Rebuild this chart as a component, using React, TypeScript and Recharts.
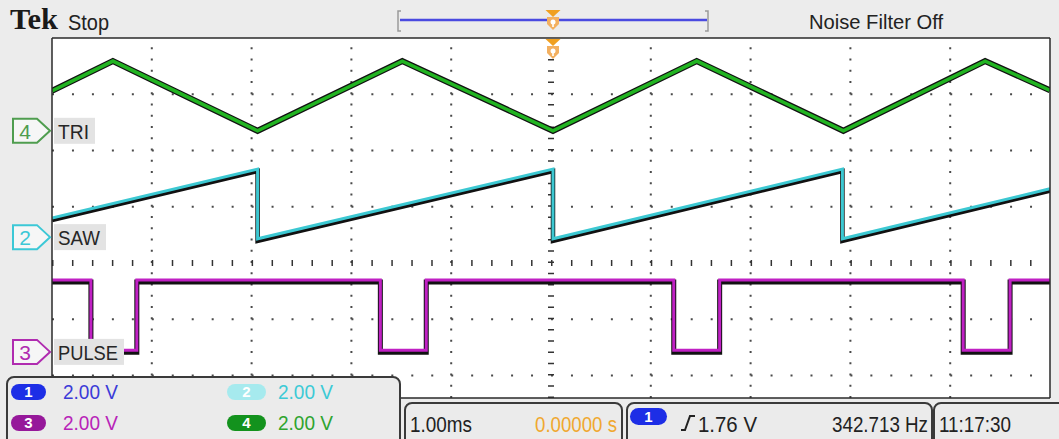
import React from 'react';
import { ComposedChart, Line, XAxis, YAxis, CartesianGrid, ReferenceLine, ReferenceDot } from 'recharts';

// time in ms (1.00 ms/div, trigger at 0), level in screen divisions from centre
const triTime = [-5, -4.39, -2.94, -1.49, 0.02, 1.46, 2.93, 4.35, 5];
const triLevel = [3.06, 3.59, 2.35, 3.59, 2.35, 3.59, 2.35, 3.59, 3.07];

const sawTime = [-5, -2.94, -2.94, 0.02, 0.02, 2.92, 2.92, 5];
const sawLevel = [0.8, 1.67, 0.43, 1.67, 0.43, 1.67, 0.43, 1.32];

const pulseTime = [-5, -4.61, -4.61, -4.15, -4.15, -1.71, -1.71, -1.25, -1.25, 1.23, 1.23, 1.69, 1.69, 4.13, 4.13, 4.6, 4.6, 5];
const pulseLevel = [-0.3, -0.3, -1.55, -1.55, -0.3, -0.3, -1.55, -1.55, -0.3, -0.3, -1.55, -1.55, -0.3, -0.3, -1.55, -1.55, -0.3, -0.3];

// channel markers on the left edge
const chanNums = ['4', '2', '3'];
const chanNames = ['TRI', 'SAW', 'PULSE'];
const chanOffsets = [2.35, 0.46, -1.58];
const chanColors = ['#4f9d4f', '#3cc8d6', '#b02cb0'];
const chanNameWidths = [31, 42, 60];

// graticule
const gridX = [-4, -3, -2, -1, 1, 2, 3, 4];
const gridY = [-2, -1, 1, 2, 3];
const minorX = Array.from({ length: 51 }, (_, i) => Math.round((-5 + i * 0.2) * 100) / 100);
const minorY = Array.from({ length: 33 }, (_, i) => Math.round((-2.4 + i * 0.2) * 100) / 100);

// readouts
const scaleNums = ['1', '2', '3', '4'];
const scaleTexts = ['2.00 V', '2.00 V', '2.00 V', '2.00 V'];
const pillColors = ['#1d2ee6', '#a6eaee', '#96189a', '#13921d'];
const scaleColors = ['#3b3bd8', '#3ccad6', '#b824b8', '#2ea42e'];

const W = 1059;
const H = 439;
const UI = '"Liberation Sans", Arial, sans-serif';
const frame = { stroke: '#2a2a2a', strokeWidth: 1.5 };

const Txt = ({ x, y, w, size, fill = '#222', children, weight, family }: any) => (
  <text x={x} y={y} fontSize={size} fill={fill} fontFamily={family || UI} fontWeight={weight}
    textLength={w} lengthAdjust="spacingAndGlyphs">{children}</text>
);

const markerShape = (i: number) => (props: any) => {
  const { cx, cy } = props;
  const c = chanColors[i];
  return (
    <g>
      <path d={`M${cx - 39},${cy - 12} H${cx - 15} L${cx - 2},${cy} L${cx - 15},${cy + 12} H${cx - 39} Z`}
        fill="#f6f6f6" stroke={c} strokeWidth={2} />
      <text x={cx - 27} y={cy + 8} fontSize={21} fill={c} textAnchor="middle" fontFamily={UI}>{chanNums[i]}</text>
      <rect x={cx + 2} y={cy - 13} width={chanNameWidths[i] + 10} height={26} fill="#e3e3e3" />
      <Txt x={cx + 6} y={cy + 8} w={chanNameWidths[i]} size={21} fill="#262626">{chanNames[i]}</Txt>
    </g>
  );
};

const Pill = ({ x, y, w, h, fill, label }: any) => (
  <g>
    <rect x={x} y={y} width={w} height={h} rx={h / 2} fill={fill} />
    <text x={x + w / 2} y={y + h - 3} fontSize={15} fill="#fff" textAnchor="middle" fontFamily={UI} fontWeight="bold">{label}</text>
  </g>
);

const TrigMarker = ({ x, y }: any) => (
  <g>
    <path d={`M${x - 7.5},${y} H${x + 7.5} L${x},${y + 7} Z`} fill="#f0a020" />
    <path d={`M${x - 6},${y + 7} H${x + 6} V${y + 14} L${x},${y + 20} L${x - 6},${y + 14} Z`} fill="#f3b060" />
    <circle cx={x} cy={y + 12} r={2.5} fill="#fff" />
    <rect x={x - 0.8} y={y + 12} width={1.6} height={5} fill="#fff" />
  </g>
);

const App = () => {
  const triData = triTime.map((t, i) => ({ t, v: triLevel[i] }));
  const sawData = sawTime.map((t, i) => ({ t, v: sawLevel[i] }));
  const pulseData = pulseTime.map((t, i) => ({ t, v: pulseLevel[i] }));

  return (
    <div style={{ position: 'absolute', left: 0, top: 0, width: W, height: H, background: '#ececec', overflow: 'hidden' }}>
      <style>{`.trace-shadow { transform: translate(0px, 2px); }`}</style>
      <ComposedChart width={W} height={H} margin={{ top: 38, right: 9, bottom: 41, left: 52 }}>
        <CartesianGrid fill="#ffffff" horizontal={false} vertical={false} />
        <XAxis xAxisId={0} dataKey="t" type="number" domain={[-5, 5]} allowDataOverflow orientation="bottom" mirror
          ticks={minorX} interval={0} tick={false} tickSize={5} axisLine={frame} tickLine={frame} />
        <XAxis xAxisId="top" type="number" domain={[-5, 5]} allowDataOverflow orientation="top" mirror
          ticks={minorX} interval={0} tick={false} tickSize={5} axisLine={frame} tickLine={frame} />
        <YAxis yAxisId={0} type="number" domain={[-2.4, 4]} allowDataOverflow orientation="left" mirror
          ticks={minorY} interval={0} tick={false} tickSize={5} axisLine={frame} tickLine={frame} />
        <YAxis yAxisId="right" type="number" domain={[-2.4, 4]} allowDataOverflow orientation="right" mirror
          ticks={minorY} interval={0} tick={false} tickSize={5} axisLine={frame} tickLine={frame} />

        {gridX.map((x) => (
          <ReferenceLine key={`gx${x}`} x={x} stroke="#4a4a4a" strokeWidth={2} strokeDasharray="2 9.25" />
        ))}
        {gridY.map((y) => (
          <ReferenceLine key={`gy${y}`} y={y} stroke="#4a4a4a" strokeWidth={2} strokeDasharray="2 17.96" />
        ))}
        <ReferenceLine x={0} stroke="#333" strokeWidth={6} strokeDasharray="1.5 9.75" />
        <ReferenceLine y={0} stroke="#333" strokeWidth={6} strokeDasharray="1.5 18.46" />

        <Line data={triData} dataKey="v" type="linear" stroke="#111" strokeWidth={6} dot={false} activeDot={false} isAnimationActive={false} />
        <Line data={triData} dataKey="v" type="linear" stroke="#22b422" strokeWidth={3.5} dot={false} activeDot={false} isAnimationActive={false} />
        <Line data={sawData} dataKey="v" type="linear" className="trace-shadow" stroke="#111" strokeWidth={4.5} dot={false} activeDot={false} isAnimationActive={false} />
        <Line data={sawData} dataKey="v" type="linear" stroke="#3cc8d2" strokeWidth={3} dot={false} activeDot={false} isAnimationActive={false} />
        <Line data={pulseData} dataKey="v" type="linear" className="trace-shadow" stroke="#111" strokeWidth={5} dot={false} activeDot={false} isAnimationActive={false} />
        <Line data={pulseData} dataKey="v" type="linear" stroke="#c020c4" strokeWidth={3} dot={false} activeDot={false} isAnimationActive={false} />

        {chanOffsets.map((y, i) => (
          <ReferenceDot key={`m${i}`} x={-5} y={y} ifOverflow="visible" shape={markerShape(i)} />
        ))}
      </ComposedChart>

      <svg width={W} height={H} style={{ position: 'absolute', left: 0, top: 0, pointerEvents: 'none' }}>
        {/* top bar */}
        <Txt x={10} y={29} w={48} size={30} weight="bold" family='"Liberation Serif", serif' fill="#1a1a1a">Tek</Txt>
        <Txt x={68} y={30} w={41} size={22}>Stop</Txt>
        <path d="M401,11 H398 V31 H401" fill="none" stroke="#9a9a9a" strokeWidth={1.5} />
        <path d="M705,11 H708 V31 H705" fill="none" stroke="#9a9a9a" strokeWidth={1.5} />
        <line x1={400} y1={20} x2={707} y2={20} stroke="#4a4ae0" strokeWidth={2.5} />
        <TrigMarker x={553} y={10} />
        <TrigMarker x={553} y={39} />
        <Txt x={809} y={29} w={134} size={20}>Noise Filter Off</Txt>

        {/* vertical scale readout */}
        <rect x={7} y={377} width={393} height={70} rx={7} fill="#ebebeb" stroke="#3a3a3a" strokeWidth={2} />
        {scaleNums.map((n, i) => {
          const col = i % 2;
          const row = Math.floor(i / 2);
          const px = col === 0 ? 11 : 227;
          const py = row === 0 ? 384 : 415;
          return (
            <g key={`s${n}`}>
              <Pill x={px} y={py} w={col === 0 ? 35 : 39} h={16} fill={pillColors[i]} label={n} />
              <Txt x={col === 0 ? 63 : 278} y={py + 15} w={55} size={20} fill={scaleColors[i]}>{scaleTexts[i]}</Txt>
            </g>
          );
        })}

        {/* timebase / trigger / clock */}
        <rect x={405} y={403} width={217} height={44} rx={7} fill="#ebebeb" stroke="#3a3a3a" strokeWidth={2} />
        <Txt x={410} y={432} w={62} size={22}>1.00ms</Txt>
        <Txt x={535} y={432} w={82} size={22} fill="#f0a830">0.00000 s</Txt>
        <rect x={627} y={403} width={305} height={44} rx={7} fill="#ebebeb" stroke="#3a3a3a" strokeWidth={2} />
        <Pill x={630} y={408} w={37} h={17} fill="#1d2ee6" label="1" />
        <path d="M681,430 H685 L690,416 H695" fill="none" stroke="#222" strokeWidth={2} />
        <Txt x={698} y={432} w={59} size={22}>1.76 V</Txt>
        <Txt x={832} y={432} w={96} size={22}>342.713 Hz</Txt>
        <rect x={934} y={403} width={135} height={44} rx={7} fill="#ebebeb" stroke="#3a3a3a" strokeWidth={2} />
        <Txt x={939} y={432} w={72} size={22}>11:17:30</Txt>
      </svg>
    </div>
  );
};

export default App;
